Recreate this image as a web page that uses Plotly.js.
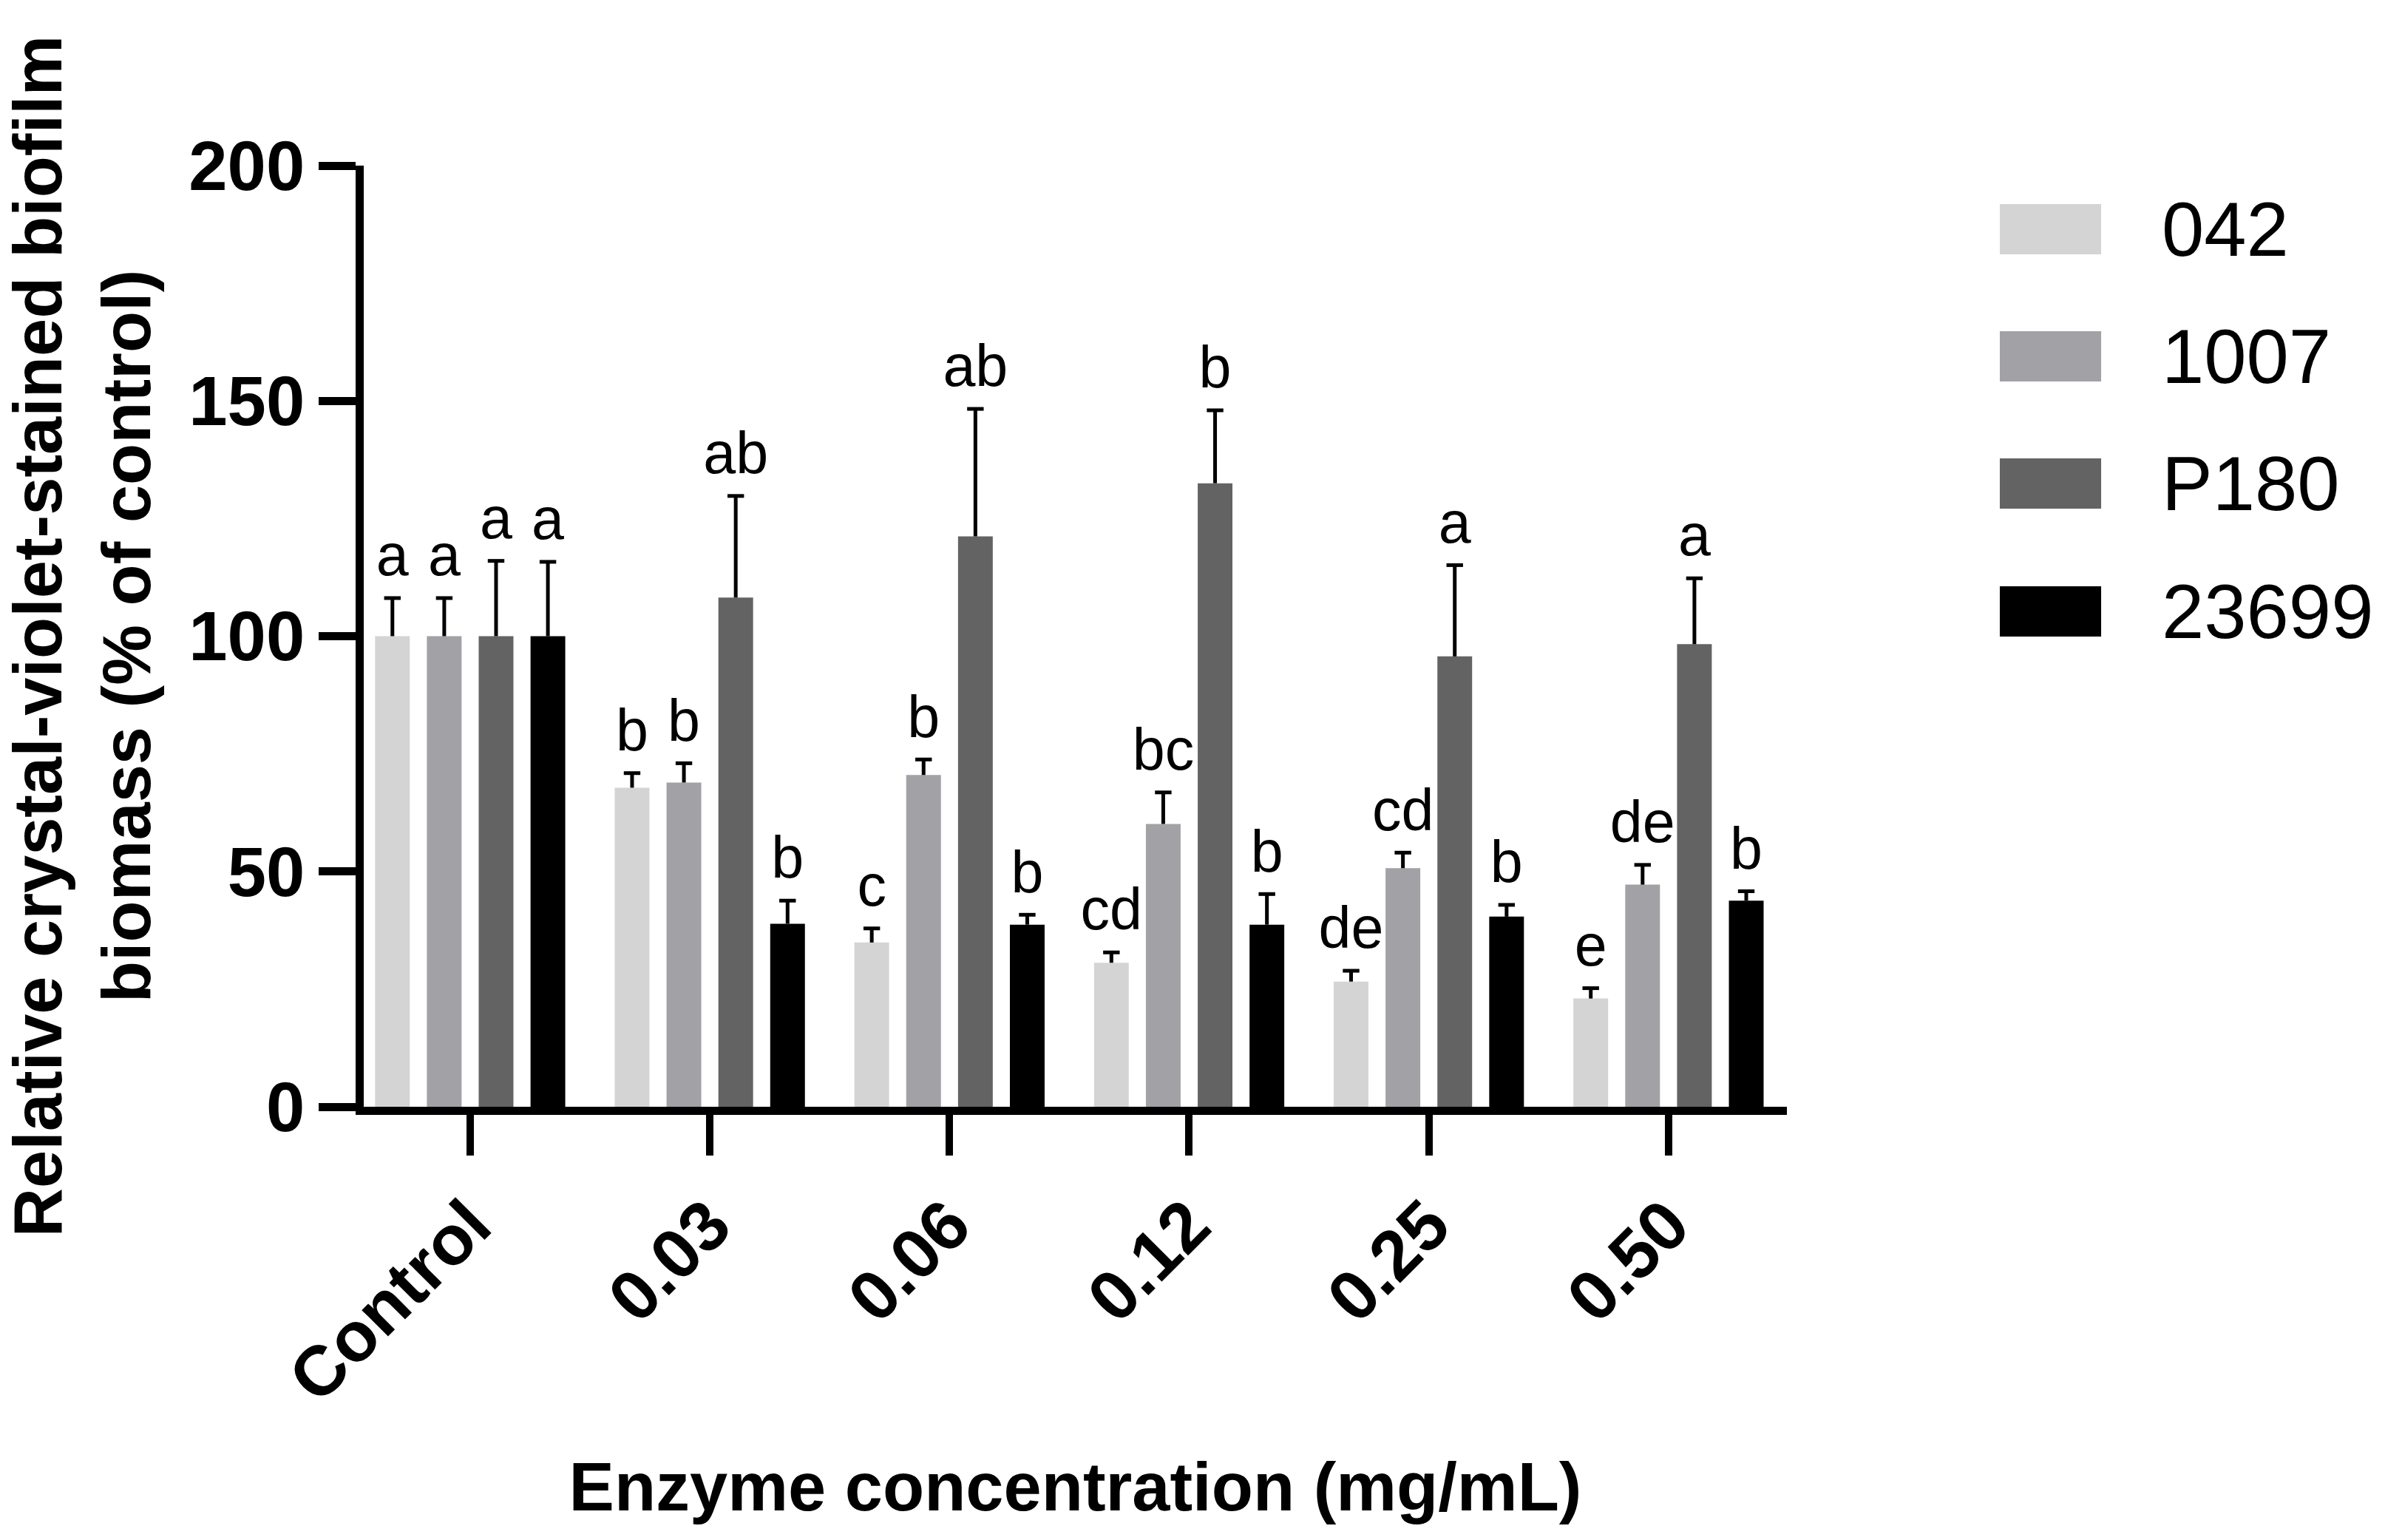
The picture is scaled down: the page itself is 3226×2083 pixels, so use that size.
<!DOCTYPE html>
<html>
<head>
<meta charset="utf-8">
<script src="https://cdn.plot.ly/plotly-3.0.1.min.js"></script>
<style>html,body{margin:0;padding:0;background:#fff;}#chart{width:3226px;height:2083px;}</style>
</head>
<body>
<div id="chart"></div>
<script>
// ---- data ----
const categories = ["Control", "0.03", "0.06", "0.12", "0.25", "0.50"];
const seriesNames = ["042", "1007", "P180", "23699"];
const seriesColors = ["#d4d4d4", "#a2a2a6", "#636363", "#000000"];

const mean042   = [100, 67.8, 34.9, 30.6, 26.6, 23.0];
const sd042     = [8.1, 3.1, 3.0, 2.2, 2.3, 2.2];
const letters042 = ["a", "b", "c", "cd", "de", "e"];

const mean1007  = [100, 68.9, 70.5, 60.1, 50.7, 47.2];
const sd1007    = [8.1, 4.1, 3.3, 6.7, 3.3, 4.2];
const letters1007 = ["a", "b", "b", "bc", "cd", "de"];

const meanP180  = [100, 108.2, 121.2, 132.5, 95.7, 98.3];
const sdP180    = [16.0, 21.6, 27.1, 15.5, 19.4, 14.0];
const lettersP180 = ["a", "ab", "ab", "b", "a", "a"];

const mean23699 = [100, 38.9, 38.7, 38.7, 40.4, 43.8];
const sd23699   = [15.8, 4.9, 2.1, 6.5, 2.5, 2.0];
const letters23699 = ["a", "b", "b", "b", "b", "b"];

const yTicks = [0, 50, 100, 150, 200];

// ---- build ----
const means = [mean042, mean1007, meanP180, mean23699];
const sds = [sd042, sd1007, sdP180, sd23699];
const letters = [letters042, letters1007, lettersP180, letters23699];

const FONT = "Liberation Sans, Arial, Helvetica, sans-serif";
const BARGAP = 0.135;

const traces = [];
for (let k = 0; k < seriesNames.length; k++) {
  traces.push({
    type: "bar",
    name: seriesNames[k],
    x: categories,
    y: means[k],
    offsetgroup: "g" + k,
    marker: { color: seriesColors[k], line: { width: 0 } },
    showlegend: false,
    hoverinfo: "skip"
  });
}
for (let k = 0; k < seriesNames.length; k++) {
  const tops = means[k].map((v, i) => v + sds[k][i]);
  traces.push({
    type: "scatter",
    mode: "markers+text",
    name: seriesNames[k] + " SD",
    x: categories,
    y: tops,
    offsetgroup: "g" + k,
    orientation: "v",
    text: letters[k],
    textposition: "top center",
    textfont: { family: FONT, size: 79, color: "#000" },
    marker: { symbol: "line-ew", size: 16, color: "#000", line: { color: "#000", width: 5 } },
    error_y: {
      type: "data", symmetric: false,
      array: means[k].map(() => 0),
      arrayminus: sds[k],
      color: "#000", thickness: 5, width: 0
    },
    cliponaxis: false,
    showlegend: false,
    hoverinfo: "skip"
  });
}

// custom large legend (swatches + labels)
const shapes = [];
const annotations = [];
const legendY = [0.9324, 0.7973, 0.6622, 0.5263];
for (let k = 0; k < seriesNames.length; k++) {
  shapes.push({
    type: "rect", xref: "paper", yref: "paper",
    x0: 1.1496, x1: 1.2208, y0: legendY[k] - 0.0267, y1: legendY[k] + 0.0267,
    fillcolor: seriesColors[k], line: { width: 0 }
  });
  annotations.push({
    xref: "paper", yref: "paper", x: 1.2623, y: legendY[k],
    xanchor: "left", yanchor: "middle", showarrow: false,
    text: seriesNames[k], font: { family: FONT, size: 103, color: "#000" }
  });
}

const layout = {
  width: 3226, height: 2083,
  margin: { l: 492, r: 809, t: 224, b: 586 },
  paper_bgcolor: "#fff", plot_bgcolor: "#fff",
  barmode: "group", bargap: BARGAP, bargroupgap: 0.33,
  scattermode: "group", scattergap: BARGAP,
  showlegend: false,
  font: { family: FONT, color: "#000" },
  xaxis: {
    type: "category",
    range: [-0.444, 5.494],
    showline: true, linecolor: "#000", linewidth: 11,
    ticks: "outside", ticklen: 55, tickwidth: 10, tickcolor: "#000",
    tickangle: -45,
    tickfont: { family: FONT, size: 95, color: "#000", weight: "bold" },
    showgrid: false, zeroline: false,
    title: { text: "Enzyme concentration (mg/mL)", font: { family: FONT, size: 92, color: "#000", weight: "bold" }, standoff: 68 },
    automargin: false
  },
  yaxis: {
    range: [0, 200],
    tickvals: yTicks,
    showline: true, linecolor: "#000", linewidth: 11,
    ticks: "outside", ticklen: 50, tickwidth: 11, tickcolor: "#000",
    tickfont: { family: FONT, size: 94, color: "#000", weight: "bold" },
    showgrid: false, zeroline: false,
    title: { text: "Relative crystal-violet-stained biofilm<br>biomass (% of control)", font: { family: FONT, size: 92, color: "#000", weight: "bold" }, standoff: 40 },
    automargin: false
  },
  shapes: shapes,
  annotations: annotations
};

Plotly.newPlot("chart", traces, layout, { staticPlot: true, displayModeBar: false });
</script>
</body>
</html>
